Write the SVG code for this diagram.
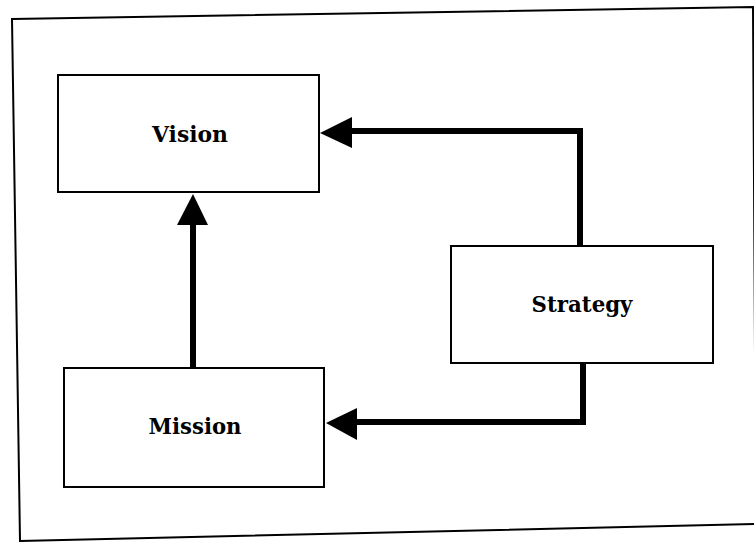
<svg xmlns="http://www.w3.org/2000/svg" width="754" height="542" viewBox="0 0 754 542">
<defs>
<style>
.box{fill:#fff;stroke:#000;stroke-width:2}
.lbl{font-family:"DejaVu Serif","Liberation Serif",serif;font-weight:bold;font-size:23px;fill:#000;text-anchor:middle}
.conn{fill:none;stroke:#000;stroke-width:6;stroke-linejoin:miter}
.head{fill:#000;stroke:none}
</style>
</defs>
<rect width="754" height="542" fill="#fff"/>
<polygon points="12,19 753,7 756,524 20,541" fill="none" stroke="#000" stroke-width="2"/>
<g id="vision">
<rect class="box" x="58" y="75" width="261" height="117"/>
<text class="lbl" x="190" y="142" textLength="76" lengthAdjust="spacingAndGlyphs">Vision</text>
</g>
<g id="mission">
<rect class="box" x="64" y="368" width="260" height="119"/>
<text class="lbl" x="195" y="434" textLength="93" lengthAdjust="spacingAndGlyphs">Mission</text>
</g>
<g id="strategy">
<rect class="box" x="451" y="246" width="262" height="117"/>
<text class="lbl" x="582" y="312" textLength="101" lengthAdjust="spacingAndGlyphs">Strategy</text>
</g>
<g id="connectors">
<polyline class="conn" points="580,246 580,131 350,131"/>
<polygon class="head" points="320,133 352,117 352,148"/>
<polyline class="conn" points="583,363 583,422 354,422"/>
<polygon class="head" points="326,423 357,408 357,440"/>
<line class="conn" x1="193" y1="368" x2="193" y2="222"/>
<polygon class="head" points="193,194 177,225 208,225"/>
</g>
</svg>
